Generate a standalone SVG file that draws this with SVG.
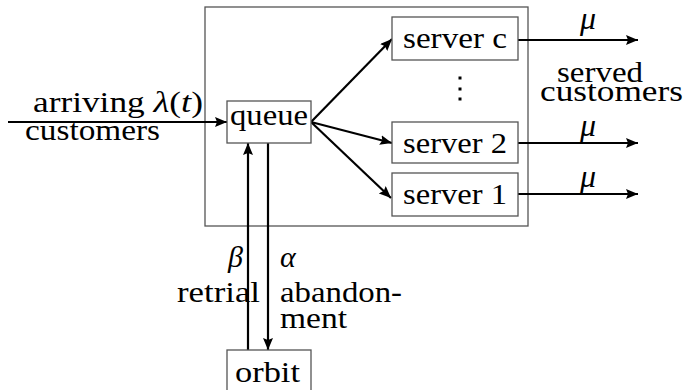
<svg xmlns="http://www.w3.org/2000/svg" width="685" height="390" viewBox="0 0 685 390">
<style>
text{font-family:'Liberation Serif','Times New Roman',serif;font-size:29px;fill:#000}
.m{font-style:italic;font-size:30px}
.mu{font-style:italic;font-size:32px}
.box{fill:#fff;stroke:#555;stroke-width:1.3}
.frame{fill:none;stroke:#555;stroke-width:1.3}
.c{fill:none;stroke:#000;stroke-width:2.2}
</style>
<defs>
<marker id="ah" viewBox="0 0 12 10" refX="12" refY="5" markerWidth="12" markerHeight="10" markerUnits="userSpaceOnUse" orient="auto">
<path d="M0,0 L12,5 L0,10 L2,5 Z" fill="#000"/>
</marker>
</defs>
<rect id="system" class="frame" x="205" y="7" width="323" height="219"/>
<g id="connectors">
<line class="c" x1="8" y1="122" x2="227" y2="122" marker-end="url(#ah)"/>
<line class="c" x1="311" y1="122" x2="392" y2="39" marker-end="url(#ah)"/>
<line class="c" x1="311" y1="122" x2="392" y2="143" marker-end="url(#ah)"/>
<line class="c" x1="311" y1="122" x2="391" y2="198" marker-end="url(#ah)"/>
<line class="c" x1="518" y1="40" x2="638" y2="40" marker-end="url(#ah)"/>
<line class="c" x1="518" y1="143" x2="638" y2="143" marker-end="url(#ah)"/>
<line class="c" x1="518" y1="194" x2="638" y2="194" marker-end="url(#ah)"/>
<line class="c" x1="248" y1="350" x2="248" y2="143" marker-end="url(#ah)"/>
<line class="c" x1="268" y1="143" x2="268" y2="350" marker-end="url(#ah)"/>
</g>
<g id="queue">
<rect class="box" x="227" y="101" width="84" height="42"/>
<text x="230" y="125" textLength="78" lengthAdjust="spacingAndGlyphs">queue</text>
</g>
<g id="server-c">
<rect class="box" x="392" y="17" width="126" height="43"/>
<text x="403" y="48" textLength="104" lengthAdjust="spacingAndGlyphs">server c</text>
</g>
<g id="server-2">
<rect class="box" x="392" y="122" width="126" height="41"/>
<text x="403" y="153" textLength="104" lengthAdjust="spacingAndGlyphs">server 2</text>
</g>
<g id="server-1">
<rect class="box" x="392" y="173" width="126" height="43"/>
<text x="403" y="204" textLength="104" lengthAdjust="spacingAndGlyphs">server 1</text>
</g>
<g id="orbit">
<rect class="box" x="227" y="350" width="84" height="45"/>
<text x="235" y="382" textLength="65" lengthAdjust="spacingAndGlyphs">orbit</text>
</g>
<g id="dots" fill="#000">
<rect x="458.5" y="76.5" width="3" height="3"/>
<rect x="458.5" y="87.5" width="3" height="3"/>
<rect x="458.5" y="97.5" width="3" height="3"/>
</g>
<g id="labels">
<text x="33" y="112" textLength="170" lengthAdjust="spacingAndGlyphs">arriving <tspan class="m">λ</tspan>(<tspan class="m">t</tspan>)</text>
<text x="25" y="140" textLength="135" lengthAdjust="spacingAndGlyphs">customers</text>
<text class="mu" x="580" y="29">μ</text>
<text class="mu" x="580" y="136">μ</text>
<text class="mu" x="580" y="187">μ</text>
<text x="557" y="82" textLength="86" lengthAdjust="spacingAndGlyphs">served</text>
<text x="540" y="101" textLength="143" lengthAdjust="spacingAndGlyphs">customers</text>
<text class="m" x="228" y="267">β</text>
<text class="m" x="280" y="267">α</text>
<text x="177" y="302" textLength="83" lengthAdjust="spacingAndGlyphs">retrial</text>
<text x="280" y="302" textLength="122" lengthAdjust="spacingAndGlyphs">abandon-</text>
<text x="280" y="328" textLength="67" lengthAdjust="spacingAndGlyphs">ment</text>
</g>
</svg>
